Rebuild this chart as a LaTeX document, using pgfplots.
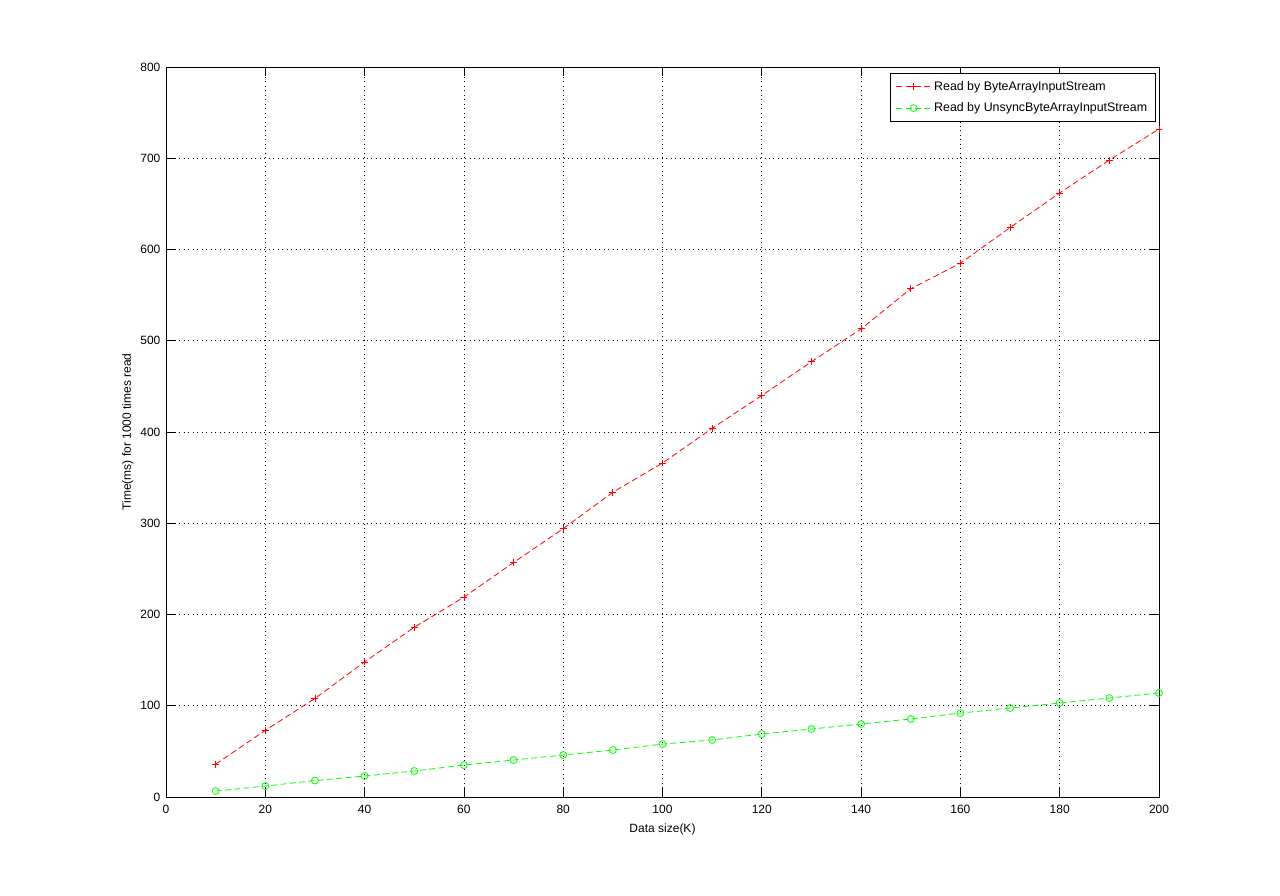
\documentclass[border=0pt]{standalone}
\usepackage{fontspec}
\setmainfont{Liberation Sans}
\usepackage{pgfplots}
\pgfplotsset{compat=1.18}
\begin{document}
\fontsize{9}{10.8}\selectfont
\begin{tikzpicture}
\path[use as bounding box] (-124.5pt,-73.5pt) rectangle (835.5pt,597.75pt);
\begin{axis}[
  at={(0,0)}, anchor=south west,
  scale only axis, width=744.75pt, height=547.5pt,
  xmin=0, xmax=200, ymin=0, ymax=800,
  xtick={0,20,...,200}, ytick={0,100,...,800},
  tick align=inside, major tick length=7pt,
  grid=major,
  major grid style={black, line width=0.6pt, dash pattern=on 0.75pt off 2.6pt},
  axis line style={black, line width=0.6pt},
  every tick/.style={black, line width=0.6pt},
  /pgf/number format/assume math mode=true,
  ticklabel style={font=\fontsize{9}{10.8}\selectfont},
  xticklabel style={yshift=-3pt},
  yticklabel style={xshift=-1pt},
  label style={font=\fontsize{9}{10.8}\selectfont},
  xlabel={Data size(K)}, ylabel={Time(ms) for 1000 times read},
  xlabel style={yshift=-1pt},
  ylabel style={yshift=-1pt},
  legend style={at={(0.9965,0.992)}, anchor=north east, draw=black, line width=0.6pt, font=\fontsize{9.3}{11}\selectfont, inner xsep=4pt, inner ysep=4pt, row sep=4pt},
  legend cell align=left,
  legend image code/.code={\draw[mark repeat=2,mark phase=2,#1] plot coordinates {(0cm,0cm) (0.46cm,0cm) (0.92cm,0cm)};},
]
\addplot[red, line width=0.6pt, dash pattern=on 4.5pt off 2.5pt, mark=+, mark size=2.6pt, mark options={solid}] coordinates {
(10,36) (20,73) (30,108) (40,148) (50,186) (60,219) (70,257) (80,294) (90,334) (100,366)
(110,404) (120,440) (130,477) (140,513) (150,557) (160,585) (170,624) (180,662) (190,698) (200,732)
};
\addlegendentry{Read by ByteArrayInputStream}
\addplot[green, line width=0.6pt, dash pattern=on 4.5pt off 2.5pt, mark=o, mark size=2.6pt, mark options={solid}] coordinates {
(10,6.5) (20,12) (30,18) (40,23) (50,28.5) (60,35) (70,40.5) (80,46) (90,51.5) (100,58)
(110,62.5) (120,69) (130,74.5) (140,80) (150,85.5) (160,92) (170,97.5) (180,103) (190,108.5) (200,114)
};
\addlegendentry{Read by UnsyncByteArrayInputStream}
\end{axis}
\end{tikzpicture}
\end{document}
